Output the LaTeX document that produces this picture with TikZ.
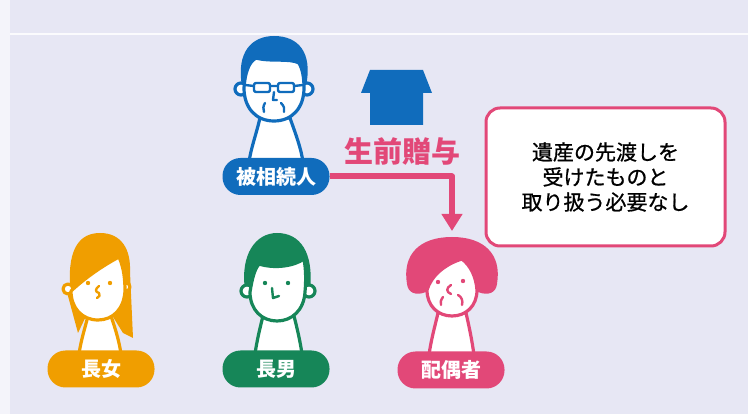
\documentclass[tikz,border=0pt]{standalone}
\usepackage{fontspec}
\newfontfamily\jp{Noto Sans CJK JP}
\newfontfamily\jpnote[FakeBold=0.8]{Noto Sans CJK JP}
\usetikzlibrary{arrows.meta}
\definecolor{paper}{RGB}{231,231,244}
\definecolor{heirblue}{RGB}{16,108,188}
\definecolor{girlorange}{RGB}{240,158,0}
\definecolor{boygreen}{RGB}{22,134,88}
\definecolor{wifepink}{RGB}{226,72,120}

\begin{document}
\begin{tikzpicture}[x=1pt,y=-1pt,line join=round,line cap=round,
    outline/.style={draw=#1,line width=3.2pt,fill=white},
    feature/.style={draw=#1,line width=2.4pt},
    pill/.style={rounded corners=18pt,minimum width=107pt,minimum height=37pt,inner sep=0pt,
        text=white,font=\jp\bfseries\fontsize{20}{20}\selectfont},
    notebox/.style={draw=wifepink,line width=3pt,rounded corners=14pt,fill=white,
        minimum width=239pt,minimum height=138pt,align=center,
        font=\jpnote\fontsize{21}{25}\selectfont},
    gift/.style={wifepink,line width=6pt,line cap=butt,-{Triangle[width=20pt,length=17pt]}}]
            \useasboundingbox (0,0) rectangle (748,414);

            % draw the paper
            \fill[paper] (0,0) rectangle (748,414);
            \fill[white!55!paper] (0,0) rectangle (10,414);
            \fill[white!85!paper] (10,33) rectangle (748,35.5);

            % father (blue)
            \fill[heirblue] (242,86) .. controls (236,52) and (252,36) .. (274,36) .. controls (298,36) and (313,52) .. (306,86) -- cycle;
            \draw[outline=heirblue] (260,118) .. controls (256,135) and (251,148) .. (249,162) -- (303,162) .. controls (301,148) and (296,135) .. (290,118) -- cycle;
            \draw[outline=heirblue] (241,89) circle (6pt);
            \draw[outline=heirblue] (307,89) circle (6pt);
            \draw[outline=heirblue] (244,88) .. controls (245,72) and (249,62) .. (256,58) .. controls (270,62) and (290,58) .. (299,63) .. controls (303,70) and (304,79) .. (304,88) .. controls (304,108) and (292,121) .. (274,121) .. controls (256,121) and (244,108) .. (244,88);
            \draw[feature=heirblue,fill=white,rounded corners=2pt] (254,83) rectangle (270,92) (278,83) rectangle (294,92);
            \draw[feature=heirblue] (270,86) -- (278,86) (254,86) -- (245,85) (294,86) -- (303,85);
            \draw[feature=heirblue] (274,92) -- (273,100) -- (277,100);
            \draw[feature=heirblue] (265,103) .. controls (263,106) and (263,109) .. (264,112);
            \draw[feature=heirblue] (281,103) .. controls (284,106) and (285,109) .. (284,112);

            % gift arrow and label
            \fill[heirblue] (370,125) -- (370,93) -- (361,93) -- (370,70) -- (423,70) -- (432,93) -- (423,93) -- (423,125) -- cycle;
            \node[text=wifepink,font=\jp\bfseries\fontsize{29}{29}\selectfont] (giftlabel) at (402,151) {生前贈与};

            % daughter (orange)
            \fill[girlorange] (70,285) .. controls (68,248) and (80,233) .. (100,233) .. controls (122,233) and (131,250) .. (130,272) -- (133,338) -- (123,333) -- (110,312) -- (88,312) -- (78,333) -- (68,296) -- cycle;
            \draw[outline=girlorange] (88,316) .. controls (85,328) and (81,340) .. (79,354) -- (121,354) .. controls (119,340) and (115,328) .. (111,316) -- cycle;
            \draw[outline=girlorange] (68,289) circle (5pt);
            \draw[outline=girlorange] (126,287) circle (4pt);
            \draw[outline=girlorange] (71,291) .. controls (85,278) and (102,266) .. (119,257) .. controls (124,268) and (125,280) .. (125,291) .. controls (124,309) and (113,320) .. (98,320) .. controls (82,320) and (71,308) .. (71,291);
            \fill[girlorange] (88,283) circle (2.2pt) (110,283) circle (2.2pt);
            \draw[feature=girlorange] (99,286) .. controls (95,289) and (95,292) .. (99,293) .. controls (101,295) and (99,297) .. (97,298);

            % son (green)
            \fill[boygreen] (245,290) .. controls (240,254) and (256,233) .. (277,233) .. controls (300,233) and (314,252) .. (310,290) -- cycle;
            \draw[outline=boygreen] (263,316) .. controls (260,328) and (257,340) .. (255,354) -- (302,354) .. controls (300,340) and (297,328) .. (294,316) -- cycle;
            \draw[outline=boygreen] (247,291) circle (6pt);
            \draw[outline=boygreen] (309,291) circle (6pt);
            \draw[outline=boygreen] (250,292) .. controls (252,280) and (254,270) .. (259,264) .. controls (275,269) and (294,266) .. (304,259) .. controls (306,270) and (306,281) .. (305,292) .. controls (304,310) and (292,321) .. (277,321) .. controls (262,321) and (250,310) .. (250,292);
            \fill[boygreen] (265,283) circle (2.2pt) (288,283) circle (2.2pt);
            \draw[feature=boygreen] (272,288) -- (273,298) -- (279,296);

            % spouse (pink)
            \fill[wifepink] (407,284) .. controls (402,254) and (420,237) .. (452,237) .. controls (484,237) and (502,254) .. (497,284) .. controls (496,293) and (488,296) .. (478,292) -- (426,292) .. controls (416,296) and (408,293) .. (407,284) -- cycle;
            \draw[outline=wifepink] (438,313) .. controls (435,326) and (431,340) .. (429,355) -- (474,355) .. controls (472,340) and (469,326) .. (466,313) -- cycle;
            \draw[outline=wifepink] (427,290) .. controls (431,276) and (445,264) .. (462,259) .. controls (471,266) and (476,277) .. (477,290) .. controls (477,306) and (466,316) .. (452,316) .. controls (438,316) and (427,306) .. (427,290);
            \fill[wifepink] (438,282) circle (2.2pt) (463,281) circle (2.2pt);
            \draw[feature=wifepink] (451,285) .. controls (446,288) and (446,292) .. (451,294);
            \draw[feature=wifepink] (443,297) .. controls (441,300) and (440,302) .. (441,305);
            \draw[feature=wifepink] (458,295) .. controls (462,297) and (463,301) .. (462,305);
            \coordinate (spousetop) at (452,231);

            % name labels
            \node[pill,fill=heirblue] (decedent) at (276,176.5) {被相続人};
            \node[pill,fill=girlorange] (daughter) at (101,369) {長女};
            \node[pill,fill=boygreen] (son) at (276,369) {長男};
            \node[pill,fill=wifepink] (spouse) at (451,370) {配偶者};

            % gift connector
            \draw[gift] (decedent.east) -| (spousetop);

            % note box
            \node[notebox] (note) at (605.5,177) {遺産の先渡しを\\受けたものと\\取り扱う必要なし};
        \end{tikzpicture}
\end{document}
